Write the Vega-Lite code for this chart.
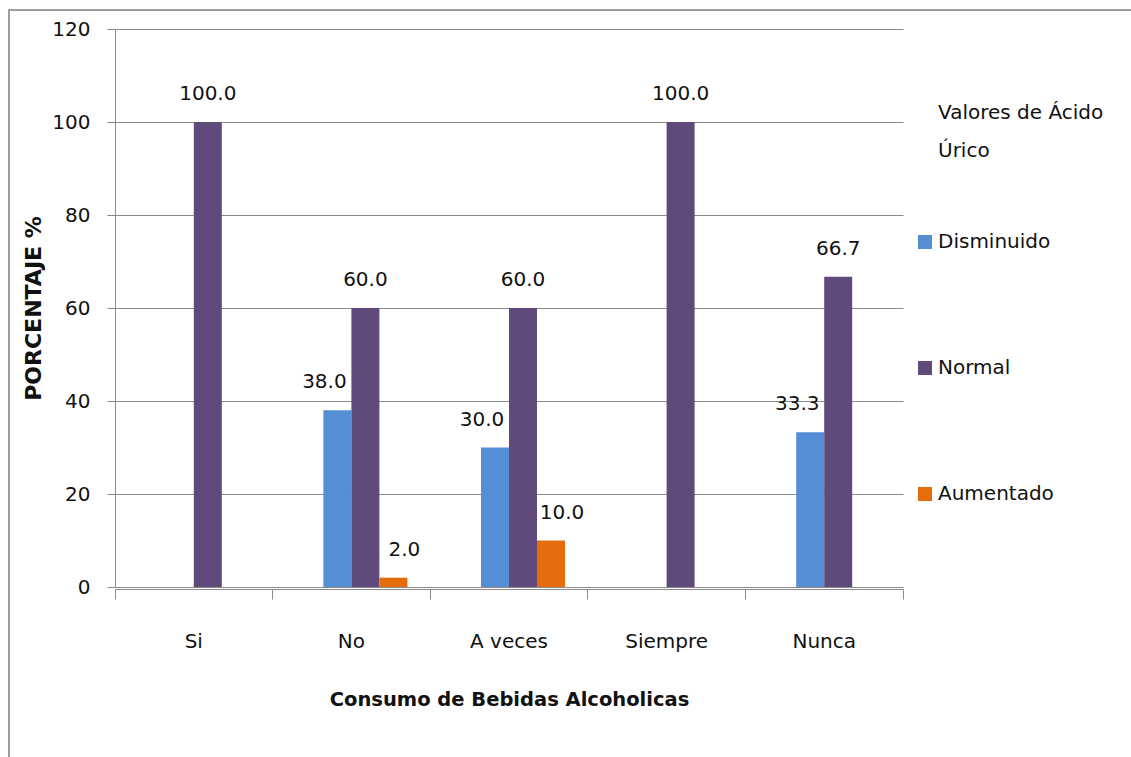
{
  "$schema": "https://vega.github.io/schema/vega-lite/v6.json",
  "width": 1124,
  "height": 749,
  "autosize": {"type": "none"},
  "padding": {"left": 9, "top": 10, "right": -2, "bottom": -2},
  "background": "white",
  "config": {
    "font": "DejaVu Sans",
    "view": {"stroke": "#7f7f7f", "strokeWidth": 1.5},
    "axis": {
      "domainColor": "#8a8a8a",
      "tickColor": "#8a8a8a",
      "gridColor": "#8a8a8a",
      "gridOpacity": 1,
      "labelColor": "#111111",
      "titleColor": "#111111",
      "labelFontSize": 20,
      "titleFontWeight": "bold"
    },
    "legend": {"labelColor": "#111111", "titleColor": "#111111"}
  },
  "data": {
    "values": [
      {"consumo": "Si", "valor": "Normal", "porcentaje": 100.0},
      {"consumo": "No", "valor": "Disminuido", "porcentaje": 38.0},
      {"consumo": "No", "valor": "Normal", "porcentaje": 60.0},
      {"consumo": "No", "valor": "Aumentado", "porcentaje": 2.0},
      {"consumo": "A veces", "valor": "Disminuido", "porcentaje": 30.0},
      {"consumo": "A veces", "valor": "Normal", "porcentaje": 60.0},
      {"consumo": "A veces", "valor": "Aumentado", "porcentaje": 10.0},
      {"consumo": "Siempre", "valor": "Normal", "porcentaje": 100.0},
      {"consumo": "Nunca", "valor": "Disminuido", "porcentaje": 33.3},
      {"consumo": "Nunca", "valor": "Normal", "porcentaje": 66.7}
    ]
  },
  "encoding": {
    "x": {
      "field": "consumo",
      "type": "nominal",
      "sort": ["Si", "No", "A veces", "Siempre", "Nunca"],
      "scale": {"range": [106, 894], "paddingInner": 0, "paddingOuter": 0},
      "axis": {
        "orient": "bottom",
        "offset": -170,
        "bandPosition": 1,
        "tickExtra": true,
        "tickSize": 10,
        "labelAngle": 0,
        "labelPadding": 48,
        "labelBaseline": "alphabetic",
        "grid": false,
        "title": "Consumo de Bebidas Alcoholicas",
        "titleFontSize": 19.5,
        "titleBaseline": "alphabetic",
        "titleY": 116
      }
    },
    "xOffset": {
      "field": "valor",
      "type": "nominal",
      "scale": {
        "domain": ["", "Disminuido", "Normal", "Aumentado"],
        "paddingInner": 0,
        "paddingOuter": 0.814
      }
    },
    "y": {
      "field": "porcentaje",
      "type": "quantitative",
      "scale": {"domain": [0, 120], "range": [577, 19], "nice": false},
      "axis": {
        "orient": "left",
        "offset": -106,
        "values": [0, 20, 40, 60, 80, 100, 120],
        "grid": true,
        "tickSize": 8,
        "labelPadding": 17,
        "title": "PORCENTAJE %",
        "titleFontSize": 22,
        "titleBaseline": "alphabetic",
        "titleX": -75
      }
    }
  },
  "layer": [
    {
      "mark": {"type": "bar"},
      "encoding": {
        "color": {
          "field": "valor",
          "type": "nominal",
          "scale": {
            "domain": ["Disminuido", "Normal", "Aumentado"],
            "range": ["#558ed5", "#604a7b", "#e46c0a"]
          },
          "legend": {
            "orient": "none",
            "legendX": 929,
            "legendY": 93,
            "padding": 0,
            "title": ["Valores de Ácido", "Úrico"],
            "titleFontSize": 20,
            "titleFontWeight": "normal",
            "titleLineHeight": 38,
            "titlePadding": 71,
            "labelFontSize": 20,
            "symbolType": "square",
            "symbolSize": 196,
            "symbolStrokeWidth": 0,
            "symbolOffset": -23,
            "labelOffset": 3,
            "rowPadding": 106
          }
        }
      }
    },
    {
      "transform": [{"filter": "datum.valor == 'Disminuido'"}],
      "mark": {"type": "text", "dx": -13, "dy": -22, "baseline": "alphabetic", "fontSize": 20, "color": "#111111"},
      "encoding": {"text": {"field": "porcentaje", "type": "quantitative", "format": ".1f"}}
    },
    {
      "transform": [{"filter": "datum.valor == 'Normal'"}],
      "mark": {"type": "text", "dy": -22, "baseline": "alphabetic", "fontSize": 20, "color": "#111111"},
      "encoding": {"text": {"field": "porcentaje", "type": "quantitative", "format": ".1f"}}
    },
    {
      "transform": [{"filter": "datum.valor == 'Aumentado'"}],
      "mark": {"type": "text", "dx": 11, "dy": -22, "baseline": "alphabetic", "fontSize": 20, "color": "#111111"},
      "encoding": {"text": {"field": "porcentaje", "type": "quantitative", "format": ".1f"}}
    }
  ]
}
